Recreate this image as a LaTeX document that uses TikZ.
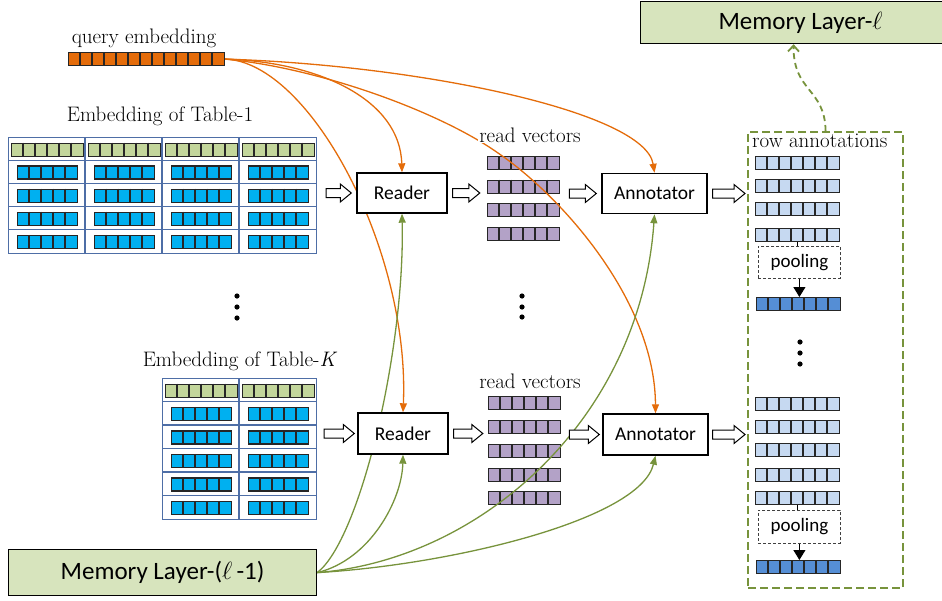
\documentclass[tikz,border=0pt]{standalone}
\usepackage{fontspec}
\newfontfamily\sansf{Carlito}
\usetikzlibrary{arrows.meta,calc,fit}
\definecolor{qorange}{HTML}{E46C0A}
\definecolor{hgreen}{HTML}{C3D69B}
\definecolor{cblue}{HTML}{00B0F0}
\definecolor{vpurple}{HTML}{B3A2C7}
\definecolor{lblue}{HTML}{C6D9F1}
\definecolor{dblue}{HTML}{558ED5}
\definecolor{memgreen}{HTML}{D7E4BD}
\definecolor{lgreen}{HTML}{77933C}
\definecolor{tblue}{HTML}{4E6EA6}
\tikzset{
  vbarstyle/.style={rectangle, draw=black!85, line width=1.2, inner sep=0, minimum height=13},
  vcell/.style={draw=black!85, line width=1.2},
  tblframe/.style={rectangle, draw=tblue, line width=1.1, inner sep=0},
  tblline/.style={draw=tblue, line width=1.1},
  procbox/.style={rectangle, draw=black, line width=1.4, fill=white, inner sep=0, font=\sansf\fontsize{19.5}{22}\selectfont},
  membox/.style={rectangle, draw=black, line width=1.2, fill=memgreen, inner sep=0, font=\sansf\fontsize{25}{29}\selectfont},
  serlabel/.style={inner sep=1, font=\fontsize{21}{24}\selectfont},
  poolbox/.style={rectangle, draw=black!75, dash pattern=on 3pt off 2pt, line width=0.8, fill=white, inner sep=0, font=\sansf\fontsize{19}{21}\selectfont},
  ocurve/.style={draw=qorange, line width=1.3, -{Triangle[length=9pt,width=7pt]}},
  gcurve/.style={draw=lgreen, line width=1.3, -{Triangle[length=9pt,width=7pt]}},
  blockarrow/.style={draw=black, fill=white, line width=1},
  rowboxstyle/.style={rectangle, draw=lgreen, line width=2.2, dash pattern=on 8pt off 4pt, inner sep=0},
}
\newcommand{\vbar}[5]{%
  \node[vbarstyle, fill=#5, minimum width=#4*12, anchor=north west] (#1) at (#2,#3) {};
  \pgfmathtruncatemacro\vbarn{#4-1}%
  \foreach \k in {1,...,\vbarn} \draw[vcell] ([xshift=\k*12]#1.north west) -- ([xshift=\k*12]#1.south west);
}
\newcommand{\blockarr}[2]{%
  \draw[blockarrow] let \p1=(#1), \p2=(#2) in
  (\x1,\y1+4.5pt) -- (\x2-11pt,\y1+4.5pt) -- (\x2-11pt,\y1+9pt) -- (\x2,\y1) -- (\x2-11pt,\y1-9pt) -- (\x2-11pt,\y1-4.5pt) -- (\x1,\y1-4.5pt) -- cycle;
}
\begin{document}
\begin{tikzpicture}[x=1pt,y=-1pt]
\useasboundingbox (0,0) rectangle (942,600);

% ---------- query embedding ----------
\node[serlabel] (qlabel) at (144,38) {query embedding};
\vbar{q}{68}{52}{13}{qorange}

% ---------- Table-1 ----------
\node[serlabel] (t1label) at (160,116) {Embedding of Table-1};
\node[tblframe, minimum width=308, minimum height=116, anchor=north west] (t1) at (8,137) {};
\foreach \c in {1,2,3} \draw[tblline] ($(t1.north west)+(77*\c,0)$) -- ($(t1.south west)+(77*\c,0)$);
\foreach \r in {1,...,4} \draw[tblline] ($(t1.north west)+(0,23.2*\r)$) -- ($(t1.north east)+(0,23.2*\r)$);
\foreach \c in {0,...,3} {\vbar{t1h\c}{8+77*\c+3}{142.5}{6}{hgreen}}
\foreach \c in {0,...,3} {\foreach \r in {1,...,4} {\vbar{t1v\r\c}{8+77*\c+9}{137+23.2*\r+5.1}{5}{cblue}}}

% ---------- Table-K ----------
\node[serlabel] (tKlabel) at (240,361) {Embedding of Table-\textit{K}};
\node[tblframe, minimum width=154, minimum height=141, anchor=north west] (tK) at (162,378) {};
\draw[tblline] ($(tK.north west)+(77,0)$) -- ($(tK.south west)+(77,0)$);
\foreach \r in {1,...,5} \draw[tblline] ($(tK.north west)+(0,23.5*\r)$) -- ($(tK.north east)+(0,23.5*\r)$);
\foreach \c in {0,1} {\vbar{tKh\c}{162+77*\c+3}{383.5}{6}{hgreen}}
\foreach \c in {0,1} {\foreach \r in {1,...,5} {\vbar{tKv\r\c}{162+77*\c+9}{378+23.5*\r+5.3}{5}{cblue}}}

% ---------- read vectors ----------
\vbar{rv1}{487}{156}{6}{vpurple}
\vbar{rv2}{487}{179.5}{6}{vpurple}
\vbar{rv3}{487}{203}{6}{vpurple}
\vbar{rv4}{487}{227}{6}{vpurple}
\node[fit=(rv1)(rv4), inner sep=0] (rvA) {};
\vbar{rvb1}{488}{396}{6}{vpurple}
\vbar{rvb2}{488}{420}{6}{vpurple}
\vbar{rvb3}{488}{444}{6}{vpurple}
\vbar{rvb4}{488}{468}{6}{vpurple}
\vbar{rvb5}{488}{491}{6}{vpurple}
\node[fit=(rvb1)(rvb5), inner sep=0] (rvB) {};

% ---------- row annotations ----------
\node[rowboxstyle, minimum width=155, minimum height=456, anchor=north west] (rowbox) at (747,131) {};
\vbar{ua1}{755}{156}{7}{lblue}
\vbar{ua2}{755}{179}{7}{lblue}
\vbar{ua3}{755}{202}{7}{lblue}
\vbar{ua4}{755}{228}{7}{lblue}
\vbar{dv1}{756}{297}{7}{dblue}
\vbar{ub1}{755}{397}{7}{lblue}
\vbar{ub2}{755}{420}{7}{lblue}
\vbar{ub3}{755}{443}{7}{lblue}
\vbar{ub4}{755}{468}{7}{lblue}
\vbar{ub5}{755}{491}{7}{lblue}
\vbar{dv2}{756}{560}{7}{dblue}

% ---------- memory layers ----------
\node[membox, minimum width=320, minimum height=42, anchor=north west] (mem1) at (640,1) {Memory Layer-$\ell$};
\node[membox, minimum width=308, minimum height=46, anchor=north west] (mem0) at (8,549) {Memory Layer-($\ell$\,-1)};

% ---------- boxes (placed before curves for anchors) ----------
\path node[procbox, minimum width=90, minimum height=40] (r1) at (402,193) {Reader};
\path node[procbox, minimum width=90, minimum height=41] (r2) at (403,433.5) {Reader};
\path node[procbox, minimum width=105, minimum height=40] (a1) at (654.5,193.5) {Annotator};
\path node[procbox, minimum width=105, minimum height=41] (a2) at (655.5,434.5) {Annotator};

% ---------- orange curves ----------
\draw[ocurve] (q.east) .. controls (320,62) and (400,100) .. (r1.north);
\draw[ocurve] (q.east) .. controls (310,62) and (410,250) .. (r2.north);
\draw[ocurve] (q.east) .. controls (320,68) and (440,112) .. (498,153) .. controls (560,195) and (655,300) .. (a2.north);
\draw[ocurve] (q.east) .. controls (420,65) and (645,112) .. (a1.north);

% ---------- green curves ----------
\draw[gcurve] (mem0.east) .. controls (360,540) and (405,350) .. (r1.south);
\draw[gcurve] (mem0.east) .. controls (370,560) and (402,500) .. (r2.south);
\draw[gcurve] (mem0.east) .. controls (480,560) and (640,420) .. (a1.south);
\draw[gcurve] (mem0.east) .. controls (450,565) and (640,520) .. (a2.south);

% ---------- boxes redrawn on top ----------
\node[procbox, minimum width=90, minimum height=40] at (r1) {Reader};
\node[procbox, minimum width=90, minimum height=41] at (r2) {Reader};
\node[procbox, minimum width=105, minimum height=40] at (a1) {Annotator};
\node[procbox, minimum width=105, minimum height=41] at (a2) {Annotator};

% ---------- labels ----------
\node[serlabel, fill=white] (rvlabA) at (530,135) {read vectors};
\node[serlabel, fill=white] (rvlabB) at (530,381) {read vectors};
\node[serlabel, anchor=west] (ralabel) at (751,141) {row annotations};

% ---------- pooling ----------
\node[poolbox, minimum width=82, minimum height=32, anchor=north west] (p1) at (758,246) {pooling};
\node[poolbox, minimum width=82, minimum height=33, anchor=north west] (p2) at (758,510) {pooling};
\draw[line width=0.8] (ua4.south) -- (ua4.south |- p1.north);
\draw[line width=0.8] (ub5.south) -- (ub5.south |- p2.north);
\draw[line width=1, -{Triangle[length=10pt,width=12pt]}] (p1.south) -- (p1.south |- dv1.north);
\draw[line width=1, -{Triangle[length=10pt,width=12pt]}] (p2.south) -- (p2.south |- dv2.north);

% ---------- hollow arrows ----------
\blockarr{$(t1.east |- r1.west)+(9,0)$}{$(r1.west)+(-5,0)$}
\blockarr{$(r1.east)+(5,0)$}{$(rvA.west |- r1.east)+(-7,0)$}
\blockarr{$(rvA.east |- a1.west)+(9,0)$}{$(a1.west)+(-5,0)$}
\blockarr{$(a1.east)+(5,0)$}{$(rowbox.west |- a1.east)+(-2,0)$}
\blockarr{$(tK.east |- r2.west)+(7,0)$}{$(r2.west)+(-3,0)$}
\blockarr{$(r2.east)+(5,0)$}{$(rvB.west |- r2.east)+(-5,0)$}
\blockarr{$(rvB.east |- a2.west)+(8,0)$}{$(a2.west)+(-3,0)$}
\blockarr{$(a2.east)+(4,0)$}{$(rowbox.west |- a2.east)+(-2,0)$}

% ---------- dashed arrow to Memory Layer-l ----------
\draw[draw=lgreen, line width=1.8, dash pattern=on 6pt off 4pt, -{Straight Barb[length=6pt,width=11pt]}] (rowbox.north) .. controls (825,88) and (793,92) .. ($(mem1.south)+(-7,0)$);

% ---------- ellipsis dots ----------
\foreach \yy in {296,307,318} \fill (237,\yy) circle[radius=2.6pt];
\foreach \yy in {296,307,317} \fill (522,\yy) circle[radius=2.6pt];
\foreach \yy in {342,353,364} \fill (800,\yy) circle[radius=2.6pt];
\end{tikzpicture}
\end{document}
